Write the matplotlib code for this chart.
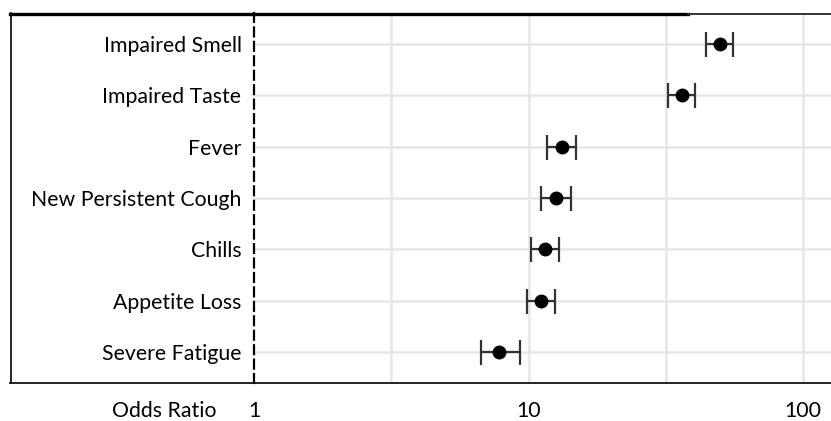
import matplotlib
matplotlib.use("Agg")
import matplotlib.pyplot as plt
from matplotlib.lines import Line2D
import numpy as np

categories = ["Impaired Smell", "Impaired Taste", "Fever", "New Persistent Cough",
              "Chills", "Appetite Loss", "Severe Fatigue"]
odds_ratio = [49.9, 36.1, 13.2, 12.6, 11.5, 11.1, 7.8]
ci_low = [44.3, 32.1, 11.7, 11.1, 10.2, 9.9, 6.7]
ci_high = [55.4, 40.4, 14.9, 14.3, 12.9, 12.5, 9.3]
xtick_vals = [1, 10, 100]
xtick_labels = ["1", "10", "100"]
grid_vals = [10 ** 0.5, 10, 10 ** 1.5, 100]

plt.rcParams['font.family'] = ['Lato', 'DejaVu Sans']
FS = 15.3

W, H = 831, 421
fig = plt.figure(figsize=(W / 100, H / 100), dpi=100)
left_px, right_px, top_px, bot_px = 254, 831, 13, 383
ax = fig.add_axes([left_px / W, 1 - bot_px / H, (right_px - left_px) / W, (bot_px - top_px) / H])

y = np.arange(len(categories))
ax.set_xscale('log')
ax.set_xlim(1, 10 ** ((831 - 254) / 274.5))
ax.set_ylim(len(categories) - 0.4, -0.6)

for g in grid_vals:
    ax.axvline(g, color='#e6e6e6', lw=1.8, zorder=0)
for yi in y:
    ax.axhline(yi, color='#e6e6e6', lw=1.8, zorder=0)

xerr = [np.array(odds_ratio) - np.array(ci_low), np.array(ci_high) - np.array(odds_ratio)]
ax.errorbar(odds_ratio, y, xerr=xerr, fmt='o', color='black', ecolor='#333333',
            elinewidth=1.6, capsize=9, capthick=1.6, markersize=9, zorder=3)

ax.set_yticks(y)
ax.set_yticklabels(categories, fontsize=FS)
ax.set_xticks(xtick_vals)
ax.set_xticklabels(xtick_labels, fontsize=FS)
ax.minorticks_off()
ax.tick_params(axis='both', length=0)
ax.tick_params(axis='y', pad=9)
ax.tick_params(axis='x', pad=13)

ax.spines['right'].set_visible(False)
ax.spines['left'].set_linestyle((0, (4, 2.5)))
ax.spines['left'].set_linewidth(1.6)
ax.spines['left'].set_color('black')
ax.spines['bottom'].set_linewidth(1.2)
ax.spines['top'].set_visible(False)

def fx(px):
    return px / W

def fy(py):
    return 1 - py / H

# outer frame pieces
fig.add_artist(Line2D([fx(10), fx(688)], [fy(13.5), fy(13.5)], color='black', lw=2.4))
fig.add_artist(Line2D([fx(688), fx(831)], [fy(13.5), fy(13.5)], color='#333333', lw=1.4))
fig.add_artist(Line2D([fx(10), fx(254)], [fy(383), fy(383)], color='black', lw=1.2))
fig.add_artist(Line2D([fx(10.5), fx(10.5)], [fy(13), fy(383)], color='black', lw=1.2))

fig.text(fx(164), fy(417), "Odds Ratio", fontsize=FS, ha='center', va='baseline')

fig.savefig("out.png", dpi=100)
